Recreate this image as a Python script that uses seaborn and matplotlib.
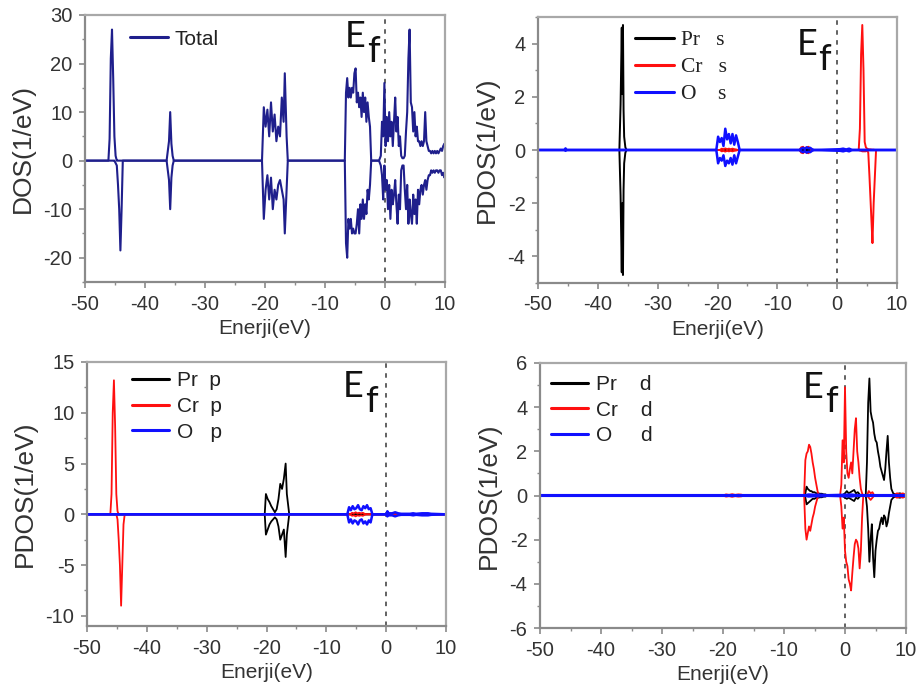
import matplotlib
matplotlib.use('Agg')
import matplotlib.pyplot as plt
import seaborn as sns
from matplotlib.ticker import MultipleLocator
from matplotlib.lines import Line2D

sns.set_theme(style='ticks')
plt.rcParams['font.family'] = ['Liberation Sans', 'DejaVu Sans']
plt.rcParams['axes.unicode_minus'] = False

# ---------------- data: (energy eV, spin-up DOS, spin-down DOS) ----------------
total_pts = [
    (-50.0, 0, 0), (-46.1, 0, 0), (-45.9, 4.5, 0), (-45.7, 21, 0), (-45.5, 27, 0), (-45.3, 17, 0),
    (-45.1, 5, 0), (-44.9, 1, -0.5), (-44.7, 0, -1), (-44.5, 0, -5), (-44.3, 0, -10), (-44.1, 0, -18.5),
    (-43.9, 0, -10), (-43.7, 0, 0),
    (-36.4, 0, 0), (-36.2, 2, -2), (-36.0, 4, -4), (-35.8, 10, -10), (-35.6, 3.5, -3.5), (-35.4, 1, -1),
    (-35.2, 0, 0),
    (-20.5, 0, 0), (-20.2, 11, -12), (-19.9, 7, -6), (-19.6, 10.5, -3), (-19.3, 5, -8), (-19.0, 12, -3.5),
    (-18.7, 6, -10), (-18.4, 9.5, -6), (-18.1, 4, -8), (-17.8, 7, -5), (-17.5, 5, -4), (-17.2, 13, -6),
    (-16.9, 8, -8), (-16.7, 18, -15), (-16.4, 5, -6), (-16.2, 0, 0),
    (-6.7, 0, 0), (-6.5, 14, -17), (-6.3, 17, -20), (-6.1, 13, -12), (-5.9, 15, -14), (-5.7, 13, -12),
    (-5.5, 15, -15), (-5.3, 14, -14), (-5.1, 18, -15), (-4.9, 19, -15), (-4.7, 12, -13), (-4.5, 14, -10),
    (-4.3, 11, -15), (-4.1, 13, -9), (-3.9, 9, -12), (-3.7, 14, -8), (-3.5, 10, -12), (-3.3, 13, -9),
    (-3.1, 8, -11), (-2.9, 12, -6), (-2.7, 9, -8), (-2.5, 7, -5), (-2.3, 0, 0),
    (-1.0, 0, 0), (-0.7, 1, -1), (-0.5, 8, -3), (-0.3, 5, -8), (-0.1, 16, -1), (0.1, 3, -6), (0.3, 9, -4),
    (0.5, 4, -10), (0.7, 10, -5), (0.9, 5, -12), (1.1, 8, -6), (1.3, 3, -9), (1.5, 8, -7), (1.7, 13, -4),
    (1.9, 6, -9), (2.1, 9, -13), (2.3, 3, -7), (2.5, 5, -10), (2.7, 1, -2), (2.9, 0.5, -1), (3.1, 0.5, -1),
    (3.3, 1, -6), (3.5, 6, -10), (3.7, 10, -5), (3.9, 21, -13), (4.1, 27, -8), (4.3, 12, -11),
    (4.5, 11, -13), (4.7, 6, -7), (4.9, 10, -11), (5.1, 5, -8), (5.3, 7, -13), (5.5, 4, -6), (5.7, 4, -9),
    (5.9, 3, -6), (6.1, 4, -5), (6.3, 3, -7), (6.5, 4, -5), (6.7, 10, -4), (6.9, 4, -6), (7.1, 3, -4),
    (7.3, 2, -3), (7.5, 2, -3), (7.7, 1.5, -2), (7.9, 2, -2.5), (8.1, 1.5, -2), (8.3, 2, -2.5),
    (8.5, 1.5, -2), (8.7, 2, -2), (8.9, 1.5, -2.5), (9.1, 2, -2), (9.3, 2.5, -2), (9.5, 2, -3),
    (9.7, 3, -2.5), (9.9, 3.5, -3.5), (10.0, 3, -3),
]

pr_s_pts = [
    (-50.0, 0, 0), (-36.4, 0, 0), (-36.2, 1.7, -1.7), (-36.0, 4.6, -4.6), (-35.9, 2.1, -2.0),
    (-35.8, 4.7, -4.7), (-35.7, 1.5, -1.5), (-35.6, 0.5, -0.5), (-35.4, 0.1, -0.1), (-35.2, 0, 0),
    (10.0, 0, 0),
]
cr_s_pts = [
    (-50.0, 0, 0), (-19.6, 0, 0), (-19.3, 0.05, -0.05), (-19.0, 0.03, -0.03), (-18.7, 0.06, -0.06),
    (-18.4, 0.03, -0.03), (-18.1, 0.05, -0.05), (-17.8, 0.03, -0.03), (-17.5, 0.05, -0.05),
    (-17.2, 0.03, -0.03), (-16.9, 0.02, -0.02), (-16.6, 0, 0),
    (-6.3, 0, 0), (-6.0, 0.1, -0.1), (-5.7, 0.12, -0.12), (-5.4, 0.05, -0.05), (-5.1, 0.1, -0.1),
    (-4.8, 0.12, -0.12), (-4.5, 0.05, -0.05), (-4.2, 0.02, -0.02), (-3.9, 0, 0),
    (3.6, 0, 0), (3.8, 0.8, -0.02), (4.0, 3.6, -0.03), (4.2, 4.7, -0.05), (4.4, 3.0, -0.05),
    (4.6, 0.3, -0.05), (4.8, 0.1, -0.05), (5.0, 0.05, 0), (5.2, 0.03, -0.1), (5.4, 0.02, -1.0),
    (5.6, 0.02, -2.0), (5.8, 0.01, -3.0), (5.9, 0.01, -3.5), (6.1, 0.01, -2.0), (6.3, 0, -1.0),
    (6.5, 0, 0), (10.0, 0, 0),
]
o_s_pts = [
    (-50.0, 0, 0), (-45.6, 0, 0), (-45.4, 0.06, -0.03), (-45.2, 0, 0),
    (-20.2, 0, 0), (-19.9, 0.5, -0.5), (-19.6, 0.3, -0.3), (-19.3, 0.45, -0.4), (-19.0, 0.15, -0.2),
    (-18.7, 0.8, -0.6), (-18.4, 0.4, -0.4), (-18.1, 0.6, -0.5), (-17.8, 0.25, -0.3), (-17.5, 0.6, -0.55),
    (-17.2, 0.2, -0.2), (-16.9, 0.55, -0.5), (-16.6, 0.3, -0.25), (-16.3, 0, 0),
    (-6.3, 0, 0), (-6.0, 0.05, -0.05), (-5.7, 0.08, -0.08), (-5.4, 0.04, -0.04), (-5.1, 0.1, -0.1),
    (-4.8, 0.06, -0.06), (-4.5, 0.08, -0.08), (-4.2, 0.03, -0.03), (-3.9, 0, 0),
    (0.5, 0.03, -0.03), (1.0, 0.05, -0.05), (1.5, 0.02, -0.02), (2.0, 0.05, -0.05), (2.5, 0, 0),
    (10.0, 0, 0),
]

pr_p_pts = [
    (-50.0, 0, 0), (-20.3, 0, 0), (-20.1, 2, -2), (-19.8, 1.5, -1.5), (-19.5, 1.2, -1.0),
    (-19.2, 0.8, -0.7), (-18.9, 0.5, -0.5), (-18.6, 0.2, -0.3), (-18.3, 0.5, -0.5), (-18.0, 1.5, -1.2),
    (-17.7, 3, -2.5), (-17.4, 2.5, -2), (-17.1, 3.5, -1.5), (-16.8, 5, -4.2), (-16.6, 2, -2),
    (-16.4, 1, -1), (-16.2, 0, 0), (10.0, 0, 0),
]
cr_p_pts = [
    (-50.0, 0, 0), (-46.1, 0, 0), (-45.9, 2, 0), (-45.7, 10, 0), (-45.5, 13.2, 0), (-45.3, 8.7, 0),
    (-45.1, 2, 0), (-44.9, 0.3, -0.5), (-44.7, 0, -2.5), (-44.5, 0, -5), (-44.3, 0, -9), (-44.1, 0, -5),
    (-43.9, 0, -1), (-43.7, 0, 0),
    (-6.0, 0, 0), (-5.7, 0.15, -0.15), (-5.4, 0.1, -0.1), (-5.1, 0.2, -0.2), (-4.8, 0.1, -0.1),
    (-4.5, 0.15, -0.15), (-4.2, 0.1, -0.1), (-3.9, 0.15, -0.15), (-3.6, 0.05, -0.05), (-3.3, 0, 0),
    (10.0, 0, 0),
]
o_p_pts = [
    (-50.0, 0, 0), (-6.5, 0, 0), (-6.2, 0.7, -0.8), (-5.9, 0.4, -0.5), (-5.6, 0.8, -0.9),
    (-5.3, 0.5, -0.6), (-5.0, 0.6, -0.7), (-4.7, 0.9, -1.0), (-4.4, 0.5, -0.6), (-4.1, 0.4, -0.5),
    (-3.8, 0.8, -0.9), (-3.5, 0.6, -0.7), (-3.2, 0.9, -1.0), (-2.9, 0.5, -0.6), (-2.6, 0.6, -0.8),
    (-2.3, 0, 0), (0.0, 0, 0), (0.2, 0.3, -0.2), (0.4, 0.1, -0.1), (1.0, 0.1, -0.1), (1.5, 0.2, -0.2),
    (2.0, 0.1, -0.1), (2.5, 0.05, -0.05), (4.0, 0.05, -0.05), (4.5, 0.1, -0.1), (5.0, 0.05, -0.05),
    (6.0, 0.1, -0.1), (7.0, 0.1, -0.1), (7.5, 0.05, -0.05), (10.0, 0, 0),
]

pr_d_pts = [
    (-50.0, 0, 0), (-6.7, 0, 0), (-6.5, 0.1, -0.1), (-6.3, 0.4, -0.4), (-6.1, 0.3, -0.35),
    (-5.9, 0.25, -0.3), (-5.7, 0.2, -0.25), (-5.5, 0.2, -0.2), (-5.3, 0.15, -0.15), (-5.0, 0.15, -0.15),
    (-4.7, 0.1, -0.1), (-4.4, 0.1, -0.1), (-4.1, 0.08, -0.08), (-3.8, 0.08, -0.08), (-3.5, 0.05, -0.05),
    (-3.2, 0.05, -0.05), (-2.9, 0, 0),
    (-0.5, 0, 0), (0.0, 0.1, -0.1), (0.3, 0.2, -0.15), (0.6, 0.1, -0.1), (0.9, 0.15, -0.15),
    (1.2, 0.2, -0.2), (1.5, 0.25, -0.25), (1.8, 0.1, -0.1), (2.1, 0.15, -0.15), (2.4, 0.05, -0.05),
    (2.7, 0, 0),
    (3.4, 0, 0), (3.6, 1.5, -0.5), (3.8, 4.2, -1.5), (4.0, 5.3, -3.0), (4.2, 3.8, -2.0), (4.4, 3.5, -1.3),
    (4.6, 3.3, -2.8), (4.8, 2.8, -3.7), (5.0, 2.5, -2.5), (5.2, 2.4, -2.0), (5.4, 2.0, -1.6),
    (5.6, 1.7, -1.5), (5.8, 1.3, -1.2), (6.0, 1.1, -1.0), (6.2, 0.9, -1.3), (6.4, 0.7, -0.9),
    (6.6, 1.2, -1.0), (6.8, 2.0, -1.4), (7.0, 2.7, -1.2), (7.2, 1.5, -0.8), (7.4, 0.8, -0.5),
    (7.6, 0.3, -0.2), (7.9, 0.1, -0.1), (8.2, 0.05, -0.05), (9.0, 0.1, -0.1), (9.5, 0.05, -0.05),
    (10.0, 0.05, -0.05),
]
cr_d_pts = [
    (-50.0, 0, 0), (-20.0, 0, 0), (-19.5, 0.05, -0.05), (-19.0, 0.03, -0.03), (-18.5, 0.06, -0.06),
    (-18.0, 0.03, -0.03), (-17.5, 0.05, -0.05), (-17.0, 0.04, -0.04), (-16.5, 0, 0),
    (-6.7, 0, 0), (-6.5, 1.6, -1.5), (-6.3, 1.9, -2.0), (-6.1, 2.0, -1.7), (-5.9, 2.3, -1.4),
    (-5.7, 2.2, -1.6), (-5.5, 1.9, -1.3), (-5.3, 1.5, -1.0), (-5.1, 1.2, -0.8), (-4.9, 0.8, -0.5),
    (-4.7, 0.5, -0.3), (-4.5, 0.2, -0.1), (-4.3, 0, 0),
    (-0.8, 0, 0), (-0.6, 0.5, -0.5), (-0.4, 2.5, -1.5), (-0.2, 1.5, -1.0), (0.0, 4.9, -2.5),
    (0.2, 2.0, -3.0), (0.4, 1.0, -3.2), (0.6, 0.8, -3.8), (0.8, 1.2, -4.0), (1.0, 1.5, -4.3),
    (1.2, 1.0, -3.5), (1.4, 2.0, -2.8), (1.6, 3.0, -2.2), (1.8, 3.5, -2.0), (2.0, 2.0, -2.1),
    (2.2, 1.5, -2.4), (2.4, 0.8, -3.3), (2.6, 0.3, -2.5), (2.8, 0.1, -1.0), (3.0, 0, 0),
    (3.6, 0, 0), (3.9, 0.2, -0.1), (4.2, 0.1, -0.2), (4.5, 0.15, -0.1), (4.8, 0, 0),
    (8.0, 0, 0), (8.5, 0.1, -0.1), (9.0, 0.05, -0.05), (9.5, 0.1, -0.1), (10.0, 0, 0),
]
o_d_pts = [
    (-50.0, 0, 0), (-6.5, 0, 0), (-6.0, 0.03, -0.03), (-5.0, 0.02, -0.02), (-4.0, 0.02, -0.02),
    (-3.0, 0, 0), (0.0, 0.02, -0.02), (1.0, 0.03, -0.03), (2.0, 0, 0), (10.0, 0, 0),
]

# legend labels
labels_tl = ['Total']
labels_tr = ['Pr   s', 'Cr   s', 'O    s']
labels_bl = ['Pr  p', 'Cr  p', 'O   p']
labels_br = ['Pr    d', 'Cr    d', 'O     d']

x_ticks = [-50, -40, -30, -20, -10, 0, 10]

NAVY = '#1f1f8c'
BLACK = '#000000'
RED = '#ff1010'
BLUE = '#1010ff'
SPINE = '#8a8a8a'

fig = plt.figure(figsize=(9.23, 6.93), dpi=100)

panels = [
    dict(rect=[85/923, 1-282/693, 360/923, 267/693], ylim=(-25, 30), yt=[-20, -10, 0, 10, 20, 30], ym=5,
         ylabel='DOS(1/eV)',
         series=[(total_pts, NAVY, 1.5)], labels=labels_tl, leg_anchor=(0.125, 0.945), serif=False,
         ef=((345, 47), (367, 62))),
    dict(rect=[538/923, 1-283/693, 359/923, 266/693], ylim=(-5, 5), yt=[-4, -2, 0, 2, 4], ym=1,
         ylabel='PDOS(1/eV)',
         series=[(pr_s_pts, BLACK, 1.4), (cr_s_pts, RED, 1.4), (o_s_pts, BLUE, 1.8)],
         labels=labels_tr, leg_anchor=(0.27, 0.95), serif=True,
         ef=((797, 55), (818, 70))),
    dict(rect=[87/923, 1-626/693, 359/923, 264/693], ylim=(-11, 15), yt=[-10, -5, 0, 5, 10, 15], ym=2.5,
         ylabel='PDOS(1/eV)',
         series=[(pr_p_pts, BLACK, 1.3), (cr_p_pts, RED, 1.3), (o_p_pts, BLUE, 1.8)],
         labels=labels_bl, leg_anchor=(0.125, 0.965), serif=False,
         ef=((343, 397), (365, 412))),
    dict(rect=[540/923, 1-628/693, 366/923, 265/693], ylim=(-6, 6), yt=[-6, -4, -2, 0, 2, 4, 6], ym=1,
         ylabel='PDOS(1/eV)',
         series=[(pr_d_pts, BLACK, 1.3), (cr_d_pts, RED, 1.3), (o_d_pts, BLUE, 2.2)],
         labels=labels_br, leg_anchor=(0.03, 0.955), serif=False,
         ef=((803, 398), (825, 412))),
]

for p in panels:
    ax = fig.add_axes(p['rect'])
    handles = []
    for pts, color, lw in p['series']:
        E = [q[0] for q in pts]
        up = [q[1] for q in pts]
        dn = [q[2] for q in pts]
        sns.lineplot(x=E, y=up, ax=ax, color=color, lw=lw, estimator=None, sort=False, legend=False)
        sns.lineplot(x=E, y=dn, ax=ax, color=color, lw=lw, estimator=None, sort=False, legend=False)
        handles.append(Line2D([0], [0], color=color, lw=2.2))
    ax.axvline(0, color='#555555', lw=1.3, ls=(0, (2.5, 3)), zorder=0.5)
    ax.set_xlim(-50, 10)
    ax.set_ylim(*p['ylim'])
    ax.set_xticks(x_ticks)
    ax.set_yticks(p['yt'])
    ax.xaxis.set_minor_locator(MultipleLocator(5))
    ax.yaxis.set_minor_locator(MultipleLocator(p['ym']))
    ax.tick_params(which='major', direction='out', length=4, width=1.2, color=SPINE,
                   labelsize=14.5, labelcolor='#333333', pad=5)
    ax.tick_params(which='minor', direction='out', length=2.5, width=1.0, color=SPINE)
    for s in ax.spines.values():
        s.set_color(SPINE)
        s.set_linewidth(1.6)
    ax.spines['top'].set_color('#a8a8a8')
    ax.spines['right'].set_color('#a8a8a8')
    ax.set_xlabel('Enerji(eV)', fontsize=15, color='#333333', labelpad=4)
    ax.set_ylabel(p['ylabel'], fontsize=19, color='#333333', labelpad=6)
    prop = {'family': 'Liberation Serif', 'size': 15.5} if p['serif'] else {'family': 'Liberation Sans', 'size': 15}
    leg = ax.legend(handles, p['labels'], loc='upper left', bbox_to_anchor=p['leg_anchor'],
                    frameon=False, prop=prop, handlelength=1.8, handletextpad=0.35,
                    labelspacing=0.32, borderaxespad=0, borderpad=0)
    for t in leg.get_texts():
        t.set_color('#222222')
    (ex, ey), (fx, fy) = p['ef']
    fig.text(ex/923, 1-ey/693, 'E', fontsize=26, family='Lato', color='#111111', va='baseline', ha='left')
    fig.text(fx/923, 1-fy/693, 'f', fontsize=26, family='Lato', color='#111111', va='baseline', ha='left')

fig.savefig('out.png', dpi=100, facecolor='white')
